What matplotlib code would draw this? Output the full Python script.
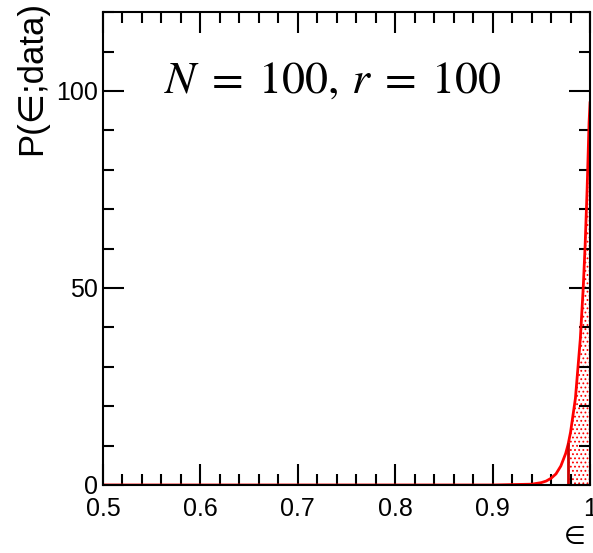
import matplotlib
matplotlib.use("Agg")
import matplotlib.pyplot as plt
import numpy as np

plt.rcParams['mathtext.fontset'] = 'stix'
plt.rcParams['font.family'] = ['Liberation Sans', 'DejaVu Sans']
plt.rcParams['hatch.color'] = 'red'
plt.rcParams['hatch.linewidth'] = 0.8

# curve
eps = [0.50, 0.60, 0.70, 0.80, 0.90, 0.94, 0.945, 0.95, 0.955, 0.96, 0.965, 0.97,
       0.975, 0.9775, 0.98, 0.985, 0.99, 0.993, 0.995, 0.997, 0.999, 1.0]
prob = [0.0, 0.0, 0.0, 0.0, 0.0, 0.2, 0.4, 0.6, 1.0, 1.7, 2.8, 4.8,
        8.0, 10.3, 13.4, 22.0, 37.0, 50.0, 61.0, 75.0, 92.0, 97.0]
lower_limit = 0.9775
label_text = r'$N\;=\;100,\,r\;=\;100$'

fig = plt.figure(figsize=(5.93, 5.53), dpi=100)
ax = fig.add_axes([0.1737, 0.123, 0.8213, 0.855])

x = np.array(eps)
y = np.array(prob)
mask = x >= lower_limit
ax.fill_between(x[mask], 0, y[mask], facecolor='none', edgecolor='red',
                hatch='....', linewidth=0)
ax.plot(x, y, color='red', lw=2)
ax.plot([lower_limit, lower_limit], [0, y[mask][0]], color='#cc0000', lw=2)

ax.set_xlim(0.5, 1.0)
ax.set_ylim(0, 120)
ax.set_xticks([0.5, 0.6, 0.7, 0.8, 0.9, 1.0])
ax.set_xticklabels(['0.5', '0.6', '0.7', '0.8', '0.9', '1'])
ax.set_xticks(np.arange(0.5, 1.0, 0.02), minor=True)
ax.set_yticks([0, 50, 100])
ax.set_yticks(np.arange(0, 121, 10), minor=True)
ax.tick_params(which='both', direction='in', top=True, right=True, labelsize=18, width=1.5)
ax.tick_params(which='major', length=15)
ax.tick_params(which='minor', length=8)
ax.tick_params(axis='x', pad=9)
for s in ax.spines.values():
    s.set_linewidth(1.5)

ax.text(0.125, 0.83, label_text, transform=ax.transAxes, fontsize=33)

fig.text(0.97, 0.008, '∈', fontsize=18, ha='center', va='bottom')
fig.text(0.025, 0.998, 'P(∈;data)', fontsize=25, rotation=90, ha='left', va='top')

fig.savefig('out.png', dpi=100)
